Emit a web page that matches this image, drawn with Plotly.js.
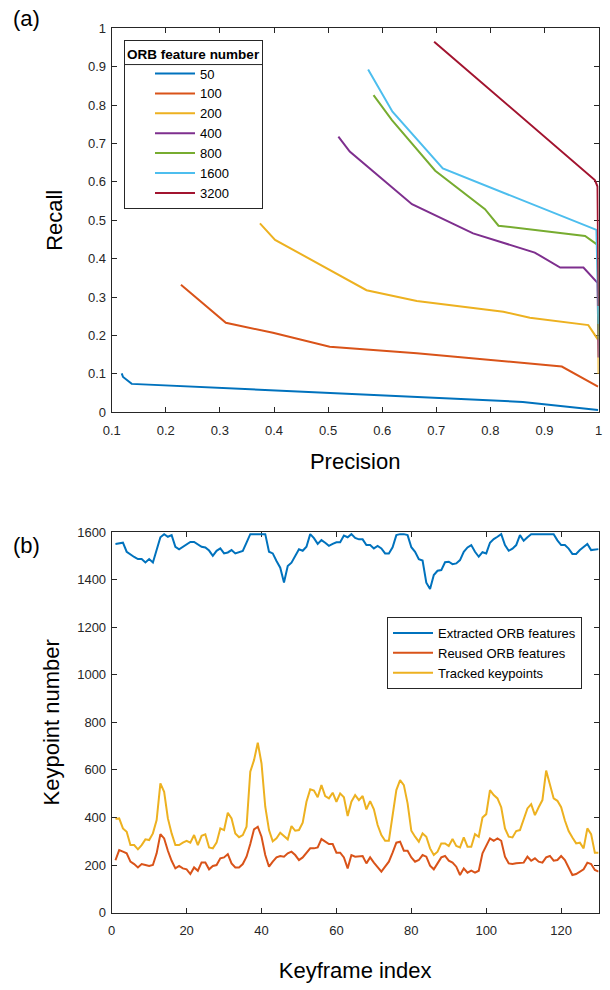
<!DOCTYPE html>
<html>
<head>
<meta charset="utf-8">
<script src="https://cdn.plot.ly/plotly-3.0.1.min.js"></script>
<style>html,body{margin:0;padding:0;background:#fff;}#chart{width:610px;height:990px;}</style>
</head>
<body>
<div id="chart"></div>
<script>
// ---------- Panel (a): precision / recall ----------
const prNames = ['50', '100', '200', '400', '800', '1600', '3200'];
const prColors = ['#0072BD', '#D95319', '#EDB120', '#7E2F8E', '#77AC30', '#4DBEEE', '#A2142F'];
const precision50 = [0.1185, 0.121, 0.137, 0.860, 0.999];
const recall50    = [0.1016, 0.092, 0.074, 0.027, 0.006];
const precision100 = [0.228, 0.311, 0.398, 0.503, 0.664, 0.932, 0.999];
const recall100    = [0.332, 0.233, 0.207, 0.171, 0.154, 0.119, 0.067];
const precision200 = [0.374, 0.402, 0.571, 0.664, 0.824, 0.873, 0.981, 0.9995, 1.0];
const recall200    = [0.492, 0.449, 0.318, 0.290, 0.262, 0.246, 0.227, 0.188, 0.100];
const precision400 = [0.519, 0.540, 0.655, 0.768, 0.882, 0.929, 0.972, 0.998, 1.0];
const recall400    = [0.718, 0.679, 0.542, 0.466, 0.416, 0.377, 0.377, 0.337, 0.143];
const precision800 = [0.584, 0.618, 0.698, 0.790, 0.815, 0.975, 0.998, 1.0];
const recall800    = [0.826, 0.761, 0.629, 0.529, 0.486, 0.459, 0.436, 0.190];
const precision1600 = [0.574, 0.619, 0.712, 0.996, 1.0];
const recall1600    = [0.893, 0.783, 0.635, 0.475, 0.230];
const precision3200 = [0.696, 0.993, 0.998, 1.0];
const recall3200    = [0.965, 0.605, 0.588, 0.277];
const prX = [precision50, precision100, precision200, precision400, precision800, precision1600, precision3200];
const prY = [recall50, recall100, recall200, recall400, recall800, recall1600, recall3200];
const precisionTicks = [0.1, 0.2, 0.3, 0.4, 0.5, 0.6, 0.7, 0.8, 0.9, 1];
const precisionTickText = ['0.1', '0.2', '0.3', '0.4', '0.5', '0.6', '0.7', '0.8', '0.9', '1'];
const recallTicks = [0, 0.1, 0.2, 0.3, 0.4, 0.5, 0.6, 0.7, 0.8, 0.9, 1];
const recallTickText = ['0', '0.1', '0.2', '0.3', '0.4', '0.5', '0.6', '0.7', '0.8', '0.9', '1'];

// ---------- Panel (b): keypoints per keyframe ----------
const kfNames = ['Extracted ORB features', 'Reused ORB features', 'Tracked keypoints'];
const kfColors = ['#0072BD', '#D95319', '#EDB120'];
const extracted = [
 1550,1552,1555,1517,1505,1495,1486,1486,1472,1486,
 1472,1531,1578,1591,1580,1587,1538,1527,1538,1550,
 1558,1558,1548,1538,1535,1522,1500,1521,1531,1510,
 1514,1524,1510,1514,1520,1555,1591,1591,1591,1591,
 1591,1517,1510,1478,1450,1388,1457,1471,1499,1527,
 1521,1538,1591,1574,1550,1566,1555,1542,1550,1557,
 1557,1585,1578,1591,1575,1569,1569,1545,1545,1531,
 1541,1531,1510,1510,1536,1587,1591,1591,1587,1536,
 1517,1486,1480,1387,1360,1419,1437,1440,1473,1475,
 1465,1468,1482,1517,1535,1545,1517,1496,1515,1510,
 1555,1570,1580,1591,1545,1521,1530,1545,1587,1563,
 1578,1591,1591,1591,1591,1591,1591,1591,1565,1545,
 1545,1530,1508,1508,1524,1537,1550,1524,1527,1528];
const reused = [
 220,263,256,249,214,204,190,204,200,196,
 200,249,330,312,260,218,186,196,186,182,
 162,190,176,211,211,182,196,200,228,232,
 246,207,190,190,204,235,288,350,361,319,
 242,193,214,232,238,235,249,256,242,221,
 232,252,270,270,274,309,298,288,288,252,
 252,232,186,242,235,235,238,207,232,210,
 190,172,193,214,252,294,298,260,260,232,
 214,221,242,235,197,182,207,232,238,218,
 210,193,158,186,168,176,168,176,249,280,
 312,302,312,302,235,207,204,207,210,210,
 235,218,228,214,210,232,238,218,221,238,
 221,186,158,162,172,182,210,204,179,172];
const tracked = [
 394,396,354,340,284,284,266,284,308,305,
 333,389,543,508,396,333,284,284,294,302,
 294,326,284,323,329,274,270,294,354,347,
 420,396,333,317,326,361,592,641,714,627,
 445,347,300,312,336,320,308,364,344,347,
 378,466,518,513,485,536,490,480,504,466,
 501,485,406,466,494,473,490,434,469,434,
 368,326,302,302,410,515,557,536,459,344,
 319,298,333,319,270,242,256,291,291,280,
 309,280,274,316,277,277,330,319,400,414,
 515,494,480,443,354,319,316,343,347,396,
 438,456,410,443,473,597,543,480,470,443,
 387,343,316,291,294,270,354,330,252,252];
const keyframeIndex = extracted.map((_, i) => i + 1);
const kfY = [extracted, reused, tracked];
const keyframeTicks = [0, 20, 40, 60, 80, 100, 120];
const keypointTicks = [0, 200, 400, 600, 800, 1000, 1200, 1400, 1600];

const FONT = 'Liberation Sans, Arial, Helvetica, sans-serif';
const AX = '#262626';

const traces = [];
prNames.forEach((n, i) => {
  traces.push({
    x: prX[i], y: prY[i], type: 'scatter', mode: 'lines', name: n,
    line: {color: prColors[i], width: 2}, xaxis: 'x', yaxis: 'y', legend: 'legend'
  });
});
kfNames.forEach((n, i) => {
  traces.push({
    x: keyframeIndex, y: kfY[i], type: 'scatter', mode: 'lines', name: n,
    line: {color: kfColors[i], width: 2}, xaxis: 'x2', yaxis: 'y2', legend: 'legend2'
  });
});

function axisBase() {
  return {
    showline: true, linecolor: AX, linewidth: 1, mirror: 'ticks',
    ticks: 'inside', ticklen: 5, tickcolor: AX, tickwidth: 1,
    tickfont: {family: FONT, size: 13, color: AX},
    showgrid: false, zeroline: false, automargin: false, fixedrange: true,
    layer: 'below traces'
  };
}

const XD = [111.7 / 610, 598.6 / 610];
const layout = {
  width: 610, height: 990,
  margin: {l: 0, r: 0, t: 0, b: 0},
  paper_bgcolor: '#fff', plot_bgcolor: '#fff',
  font: {family: FONT, color: '#000'},
  xaxis: Object.assign(axisBase(), {
    domain: XD, range: [0.1, 1], anchor: 'y',
    tickvals: precisionTicks, ticktext: precisionTickText, ticklabelstandoff: 6,
    title: {text: 'Precision', font: {family: FONT, size: 22, color: '#000'}, standoff: 16}
  }),
  yaxis: Object.assign(axisBase(), {
    domain: [1 - 412.3 / 990, 1 - 28.3 / 990], range: [0, 1], anchor: 'x',
    tickvals: recallTicks, ticktext: recallTickText, ticklabelstandoff: 2,
    title: {text: 'Recall', font: {family: FONT, size: 22, color: '#000'}, standoff: 19}
  }),
  xaxis2: Object.assign(axisBase(), {
    domain: XD, range: [0, 130], anchor: 'y2',
    tickvals: keyframeTicks, ticklabelstandoff: 6,
    title: {text: 'Keyframe index', font: {family: FONT, size: 22, color: '#000'}, standoff: 25}
  }),
  yaxis2: Object.assign(axisBase(), {
    domain: [1 - 912.6 / 990, 1 - 532 / 990], range: [0, 1600], anchor: 'x2',
    tickvals: keypointTicks, ticklabelstandoff: 2,
    title: {text: 'Keypoint number', font: {family: FONT, size: 22, color: '#000'}, standoff: 11}
  }),
  legend: {
    x: 124 / 610, y: 1 - 40 / 990, xanchor: 'left', yanchor: 'top',
    bgcolor: 'rgba(0,0,0,0)', bordercolor: AX, borderwidth: 1,
    font: {family: FONT, size: 13, color: '#000'},
    title: {text: '<b>ORB feature number</b>', side: 'top center', font: {family: FONT, size: 13.5, color: '#000'}},
    tracegroupgap: 0, indentation: 25, itemwidth: 40
  },
  legend2: {
    x: 387 / 610, y: 1 - 617 / 990, xanchor: 'left', yanchor: 'top',
    bgcolor: '#fff', bordercolor: AX, borderwidth: 1,
    font: {family: FONT, size: 13, color: '#000'},
    tracegroupgap: 0, itemwidth: 40
  },
  shapes: [
    {type: 'line', xref: 'paper', yref: 'paper', x0: 124 / 610, x1: 265 / 610,
     y0: 1 - 62.7 / 990, y1: 1 - 62.7 / 990, line: {color: AX, width: 1}}
  ],
  annotations: [
    {text: '(a)', xref: 'paper', yref: 'paper', x: 11 / 610, y: 1 - 18 / 990,
     xanchor: 'left', yanchor: 'middle', showarrow: false, font: {family: FONT, size: 22, color: '#000'}},
    {text: '(b)', xref: 'paper', yref: 'paper', x: 11 / 610, y: 1 - 545 / 990,
     xanchor: 'left', yanchor: 'middle', showarrow: false, font: {family: FONT, size: 22, color: '#000'}}
  ]
};

Plotly.newPlot('chart', traces, layout, {staticPlot: true, displayModeBar: false}).then(function (gd) {
  // place the separator under the legend title, spanning the legend box
  const leg = gd.querySelector('.legend');
  const bg = leg && leg.querySelector('.bg');
  const title = leg && leg.querySelector('.legendtitletext');
  if (bg && title) {
    const root = gd.getBoundingClientRect();
    const b = bg.getBoundingClientRect();
    const t = title.getBoundingClientRect();
    const yPx = t.bottom - root.top + 3;
    return Plotly.relayout(gd, {
      'shapes[0].x0': (b.left - root.left) / 610,
      'shapes[0].x1': (b.right - root.left) / 610,
      'shapes[0].y0': 1 - yPx / 990,
      'shapes[0].y1': 1 - yPx / 990
    });
  }
});
</script>
</body>
</html>
